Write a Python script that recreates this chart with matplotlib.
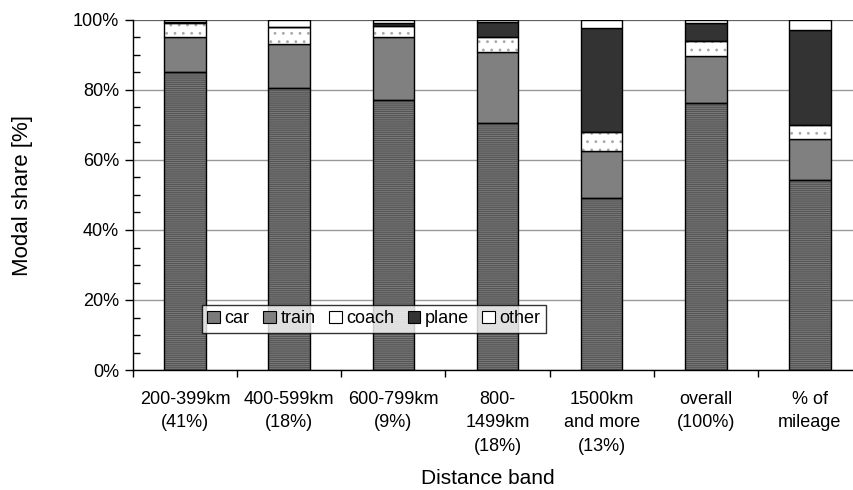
import matplotlib.pyplot as plt
import numpy as np
from matplotlib.patches import Patch

plt.rcParams['font.family'] = ['Liberation Sans', 'DejaVu Sans']
plt.rcParams['hatch.linewidth'] = 0.8

# distance bands and the modal share in each (percent)
bands = ['200-399km\n(41%)', '400-599km\n(18%)', '600-799km\n(9%)',
         '800-\n1499km\n(18%)', '1500km\nand more\n(13%)', 'overall\n(100%)',
         '% of\nmileage']
car = [85.0, 80.5, 77.0, 70.5, 49.0, 76.2, 54.2]
train = [10.0, 12.5, 18.0, 20.3, 13.6, 13.5, 11.8]
coach = [4.0, 5.0, 3.4, 4.2, 5.3, 4.4, 4.1]
plane = [0.5, 0.0, 0.6, 4.3, 29.8, 4.9, 27.0]
other = [0.5, 2.0, 1.0, 0.7, 2.3, 1.0, 2.9]

# fill, hatch and hatch colour for each mode
modes = [
    ('car', car, '#7a7a7a', '--------', '#555555'),
    ('train', train, '#808080', None, None),
    ('coach', coach, 'white', '..', '#a8a8a8'),
    ('plane', plane, '#333333', None, None),
    ('other', other, 'white', None, None),
]

fig = plt.figure(figsize=(8.54, 4.9), dpi=100)
ax = fig.add_axes([133 / 854, 120 / 490, 729 / 854, 350 / 490])

x = np.arange(len(bands))
w = 0.40
bottom = np.zeros(len(bands))
handles = []
for name, vals, fc, hatch, hc in modes:
    vals = np.array(vals)
    if hatch:
        ax.bar(x, vals, w, bottom=bottom, color=fc, hatch=hatch,
               edgecolor=hc, linewidth=0, zorder=2)
        ax.bar(x, vals, w, bottom=bottom, fill=False, edgecolor='black',
               linewidth=1.0, zorder=3)
    else:
        ax.bar(x, vals, w, bottom=bottom, color=fc, edgecolor='black',
               linewidth=1.0, zorder=2)
    bottom += vals
    handles.append(Patch(facecolor=fc, edgecolor='black', linewidth=0.8,
                         label=name))

ax.set_xlim(-0.5, len(bands) - 0.5)
ax.set_ylim(0, 100)
ax.set_yticks(np.arange(0, 101, 20))
ax.set_yticklabels([f'{v}%' for v in range(0, 101, 20)])
ax.set_yticks(np.arange(0, 101, 5), minor=True)
ax.tick_params(axis='y', which='major', direction='out', length=6, width=1,
               labelsize=13, pad=4)
ax.tick_params(axis='y', which='minor', direction='in', length=5, width=1)

# category labels sit between boundary ticks
ax.set_xticks(x)
ax.set_xticklabels(bands, fontsize=13, linespacing=1.5)
ax.tick_params(axis='x', which='major', length=0, pad=15)
ax.set_xticks(np.arange(-0.5, len(bands)), minor=True)
ax.tick_params(axis='x', which='minor', direction='out', length=5, width=1)

ax.yaxis.grid(True, color='#999999', linewidth=1.0, zorder=0)
ax.set_axisbelow(True)
for s in ['top', 'right']:
    ax.spines[s].set_visible(False)
ax.spines['left'].set_linewidth(1.0)
ax.spines['bottom'].set_linewidth(1.0)
ax.axhline(100, color='#555555', linewidth=1.2, zorder=1)

ax.set_ylabel('Modal share [%]', fontsize=16)
ax.yaxis.set_label_coords(-0.137, 0.5)
ax.set_xlabel('Distance band', fontsize=15)
ax.xaxis.set_label_coords(0.487, -0.283)

leg = ax.legend(handles=handles, ncol=5, loc='lower left',
                bbox_to_anchor=(0.0947, 0.106), borderaxespad=0,
                fontsize=13, frameon=True, fancybox=False,
                handlelength=0.7, handleheight=0.7, handletextpad=0.25,
                columnspacing=0.75, borderpad=0.3)
leg.get_frame().set_edgecolor('black')
leg.get_frame().set_linewidth(1.0)
leg.set_zorder(5)

fig.savefig('out.png', dpi=100)
